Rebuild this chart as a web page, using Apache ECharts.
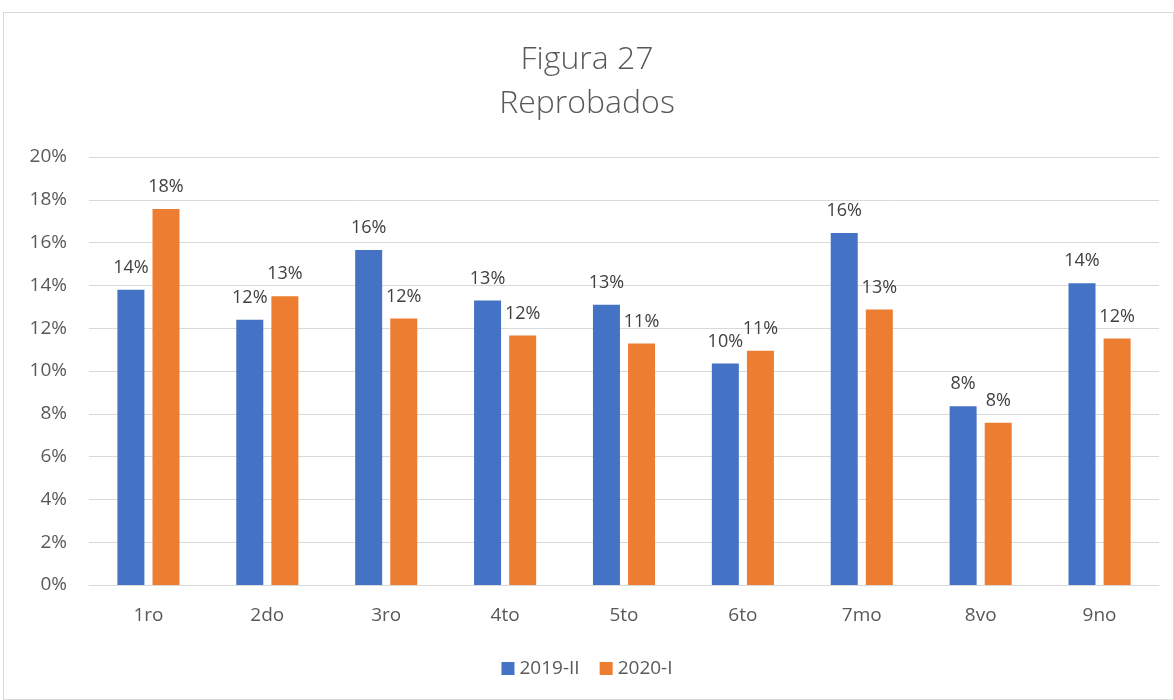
<!DOCTYPE html>
<html>
<head>
<meta charset="utf-8">
<script src="https://cdn.jsdelivr.net/npm/echarts@6/dist/echarts.min.js"></script>
<style>
  html, body { margin: 0; padding: 0; background: #fff; }
  .frame {
    position: absolute;
    left: 3px; top: 12px;
    width: 1171px; height: 688px;
    border: 1px solid #d9d9d9;
    box-sizing: border-box;
  }
  #chart { position: absolute; left: 0; top: 0; width: 1174px; height: 700px; }
</style>
</head>
<body>
<div class="frame"></div>
<div id="chart"></div>
<script>
  const categories = ['1ro', '2do', '3ro', '4to', '5to', '6to', '7mo', '8vo', '9no']
  const serie2019 = [13.8, 12.4, 15.65, 13.3, 13.1, 10.35, 16.45, 8.35, 14.1]
  const serie2020 = [17.57, 13.49, 12.45, 11.66, 11.28, 10.95, 12.87, 7.58, 11.52]
  const seriesNames = ['2019-II', '2020-I']
  const titleLines = ['Figura 27', 'Reprobados']

  const font = '"Open Sans", "Noto Sans", sans-serif'
  const text = '#595959'

  const chart = echarts.init(document.getElementById('chart'))

  function barSeries(name, data, color) {
    return {
      name,
      type: 'bar',
      data,
      barWidth: 27,
      barGap: '30%',
      itemStyle: { color },
      label: {
        show: true,
        position: 'top',
        distance: 13,
        color: '#404040',
        fontFamily: font,
        fontSize: 18,
        formatter: (p) => Math.round(p.value) + '%',
      },
    }
  }

  chart.setOption({
    animation: false,
    title: {
      text: titleLines.join('\n'),
      left: 'center',
      top: 33,
      textStyle: {
        color: text,
        fontFamily: font,
        fontWeight: 300,
        fontSize: 32,
        lineHeight: 44,
      },
    },
    legend: {
      bottom: 17,
      left: 'center',
      itemWidth: 13,
      itemHeight: 13,
      itemGap: 20,
      icon: 'rect',
      textStyle: { color: text, fontFamily: font, fontSize: 19 },
    },
    grid: { left: 89, right: 15, top: 157, bottom: 115 },
    xAxis: {
      type: 'category',
      data: categories,
      axisTick: { show: false },
      axisLine: { lineStyle: { color: '#d9d9d9' } },
      axisLabel: { color: text, fontFamily: font, fontSize: 19, margin: 21 },
    },
    yAxis: {
      type: 'value',
      min: 0,
      max: 20,
      interval: 2,
      axisLine: { show: false },
      axisTick: { show: false },
      axisLabel: {
        color: text,
        fontFamily: font,
        fontSize: 19,
        margin: 22,
        formatter: '{value}%',
      },
      splitLine: { lineStyle: { color: '#d9d9d9', width: 1 } },
    },
    series: [
      barSeries(seriesNames[0], serie2019, '#4472c4'),
      barSeries(seriesNames[1], serie2020, '#ed7d31'),
    ],
  })
</script>
</body>
</html>
